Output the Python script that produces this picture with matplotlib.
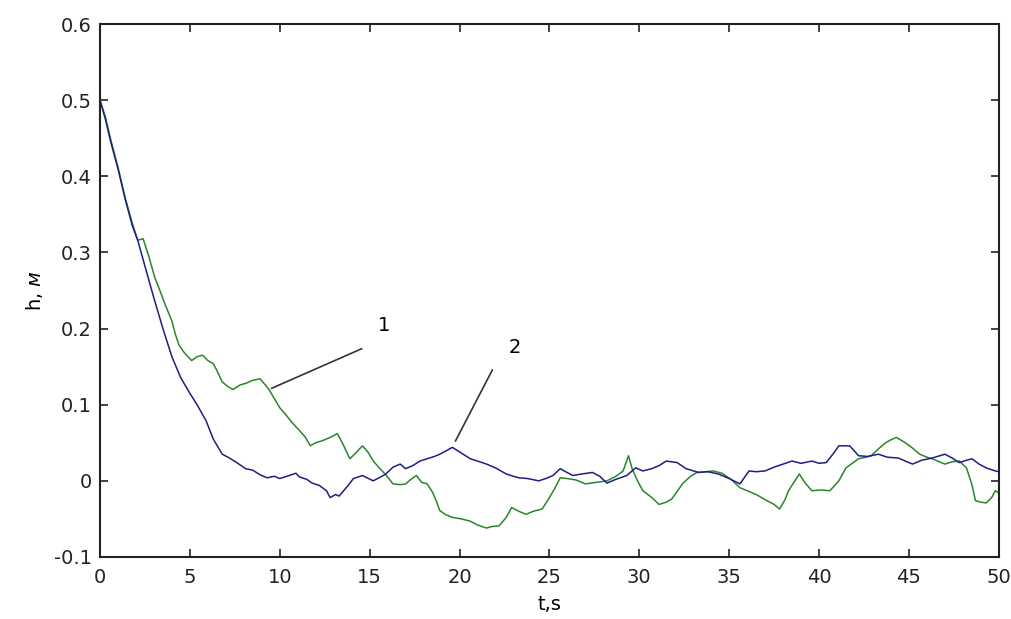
import numpy as np
import matplotlib.pyplot as plt

# curve 2 (blue)
t_2 = [0, 0.3, 0.6, 1.0, 1.4, 1.8, 2.1, 2.5, 3.0, 3.5, 4.0, 4.5, 5.0, 5.4, 5.9,
       6.3, 6.8, 7.2, 7.6, 8.1, 8.5, 8.9, 9.3, 9.7, 10.0, 10.4, 10.9, 11.1, 11.5,
       11.8, 12.2, 12.6, 12.8, 13.1, 13.3, 13.7, 14.1, 14.6, 15.2, 15.6, 15.9,
       16.3, 16.7, 17.0, 17.4, 17.8, 18.2, 18.6, 18.9, 19.3, 19.6, 20.0, 20.6,
       21.0, 21.5, 22.0, 22.6, 23.0, 23.3, 23.8, 24.4, 24.8, 25.2, 25.6, 25.9,
       26.3, 26.8, 27.4, 27.8, 28.2, 28.7, 29.3, 29.8, 30.2, 30.7, 31.1, 31.5,
       32.1, 32.6, 33.3, 33.8, 34.4, 35.0, 35.6, 36.1, 36.5, 37.0, 37.5, 38.0,
       38.5, 39.0, 39.6, 40.0, 40.4, 40.8, 41.1, 41.7, 42.2, 42.7, 43.3, 43.8,
       44.4, 44.8, 45.2, 45.7, 46.3, 47.0, 47.4, 47.8, 48.2, 48.5, 48.9, 49.3,
       49.8, 50.0]
h_2 = [0.500, 0.475, 0.445, 0.410, 0.370, 0.335, 0.316, 0.282, 0.240, 0.200,
       0.163, 0.135, 0.115, 0.100, 0.079, 0.055, 0.035, 0.030, 0.024, 0.016,
       0.014, 0.008, 0.004, 0.006, 0.003, 0.006, 0.010, 0.005, 0.002, -0.003,
       -0.006, -0.013, -0.022, -0.018, -0.020, -0.009, 0.003, 0.007, 0.000,
       0.005, 0.009, 0.018, 0.022, 0.016, 0.020, 0.026, 0.029, 0.032, 0.035,
       0.040, 0.044, 0.038, 0.029, 0.026, 0.022, 0.017, 0.009, 0.006, 0.004,
       0.003, 0.000, 0.003, 0.007, 0.016, 0.012, 0.007, 0.009, 0.011, 0.006,
       -0.003, 0.002, 0.007, 0.017, 0.013, 0.016, 0.020, 0.026, 0.024, 0.016,
       0.011, 0.012, 0.009, 0.003, -0.004, 0.013, 0.012, 0.013, 0.018, 0.022,
       0.026, 0.023, 0.026, 0.023, 0.024, 0.036, 0.046, 0.046, 0.033, 0.032,
       0.035, 0.031, 0.030, 0.026, 0.022, 0.027, 0.030, 0.035, 0.030, 0.024,
       0.027, 0.029, 0.022, 0.017, 0.013, 0.012]

# curve 1 (green)
t_1 = [0, 0.3, 0.6, 1.0, 1.4, 1.8, 2.1, 2.4, 2.7, 3.05, 3.3, 3.6, 4.0, 4.2,
       4.4, 4.7, 5.1, 5.4, 5.7, 6.0, 6.3, 6.5, 6.8, 7.1, 7.4, 7.8, 8.1, 8.5,
       8.9, 9.2, 9.4, 9.7, 10.0, 10.3, 10.6, 10.9, 11.1, 11.4, 11.7, 12.0,
       12.4, 12.8, 13.2, 13.5, 13.9, 14.2, 14.6, 14.9, 15.2, 15.5, 15.7, 16.0,
       16.3, 16.7, 17.0, 17.3, 17.6, 17.9, 18.2, 18.5, 18.7, 18.9, 19.2, 19.6,
       20.1, 20.6, 21.0, 21.5, 21.8, 22.2, 22.6, 22.9, 23.3, 23.7, 24.1, 24.6,
       25.0, 25.3, 25.6, 26.0, 26.5, 27.0, 27.6, 28.2, 28.7, 29.1, 29.4, 29.6,
       29.9, 30.2, 30.7, 31.1, 31.5, 31.8, 32.1, 32.4, 32.8, 33.2, 33.7, 34.1,
       34.6, 35.1, 35.6, 36.0, 36.5, 37.1, 37.5, 37.8, 38.1, 38.3, 38.6, 38.9,
       39.2, 39.6, 40.1, 40.6, 41.1, 41.5, 41.9, 42.2, 42.6, 42.9, 43.3, 43.7,
       44.0, 44.3, 44.8, 45.2, 45.6, 46.0, 46.3, 46.7, 47.0, 47.4, 47.8, 48.2,
       48.5, 48.7, 49.0, 49.3, 49.6, 49.8, 50.0]
h_1 = [0.500, 0.478, 0.448, 0.412, 0.372, 0.338, 0.316, 0.318, 0.296, 0.267,
       0.252, 0.233, 0.210, 0.192, 0.178, 0.168, 0.158, 0.163, 0.165, 0.158,
       0.154, 0.145, 0.130, 0.124, 0.120, 0.126, 0.128, 0.132, 0.134, 0.126,
       0.120, 0.108, 0.096, 0.088, 0.079, 0.071, 0.066, 0.058, 0.046, 0.050,
       0.053, 0.057, 0.062, 0.049, 0.029, 0.036, 0.046, 0.038, 0.026, 0.018,
       0.013, 0.005, -0.004, -0.005, -0.004, 0.002, 0.007, -0.002, -0.004,
       -0.015, -0.026, -0.039, -0.044, -0.048, -0.050, -0.053, -0.058, -0.062,
       -0.060, -0.059, -0.048, -0.035, -0.040, -0.044, -0.040, -0.037, -0.022,
       -0.010, 0.004, 0.003, 0.001, -0.004, -0.002, 0.000, 0.006, 0.013, 0.033,
       0.016, 0.000, -0.013, -0.022, -0.031, -0.028, -0.024, -0.014, -0.004,
       0.005, 0.011, 0.012, 0.013, 0.010, 0.002, -0.009, -0.013, -0.018, -0.026,
       -0.031, -0.037, -0.025, -0.013, -0.002, 0.009, -0.002, -0.013, -0.012,
       -0.013, 0.000, 0.017, 0.024, 0.029, 0.031, 0.033, 0.042, 0.050, 0.054,
       0.057, 0.050, 0.043, 0.035, 0.031, 0.029, 0.025, 0.022, 0.025, 0.026,
       0.017, -0.005, -0.026, -0.028, -0.029, -0.022, -0.013, -0.016]

x_ticks = [0, 5, 10, 15, 20, 25, 30, 35, 40, 45, 50]
y_ticks = [-0.1, 0, 0.1, 0.2, 0.3, 0.4, 0.5, 0.6]

fig = plt.figure(figsize=(10.12, 6.19), dpi=100)
ax = fig.add_axes([0.0988, 0.1002, 0.8882, 0.861])

ax.plot(t_1, h_1, color="#2b852b", linewidth=1.1)
ax.plot(t_2, h_2, color="#1e1e84", linewidth=1.1)

ax.set_xlim(0, 50)
ax.set_ylim(-0.1, 0.6)
ax.set_xticks(x_ticks)
ax.set_xticklabels([str(v) for v in x_ticks])
ax.set_yticks(y_ticks)
ax.set_yticklabels(["-0.1", "0", "0.1", "0.2", "0.3", "0.4", "0.5", "0.6"])
ax.tick_params(direction="in", top=True, right=True, length=6, width=1.2,
               labelsize=14, colors="#222222")
ax.tick_params(axis="x", pad=8)
ax.tick_params(axis="y", pad=6)
for sp in ax.spines.values():
    sp.set_linewidth(1.5)
    sp.set_color("#222222")

ax.set_xlabel("t,s", fontsize=14, labelpad=6)
ax.set_ylabel("h, $\\mathit{м}$", fontsize=14, labelpad=6)

# curve labels with leader lines
ax.annotate("", xy=(9.4, 0.12), xytext=(14.7, 0.175),
            arrowprops=dict(arrowstyle="-", color="#333333", lw=1.2))
ax.text(15.8, 0.204, "1", fontsize=14, ha="center", va="center")
ax.annotate("", xy=(19.7, 0.049), xytext=(21.9, 0.149),
            arrowprops=dict(arrowstyle="-", color="#333333", lw=1.2))
ax.text(23.1, 0.175, "2", fontsize=14, ha="center", va="center")

fig.savefig("out.png", dpi=100)
